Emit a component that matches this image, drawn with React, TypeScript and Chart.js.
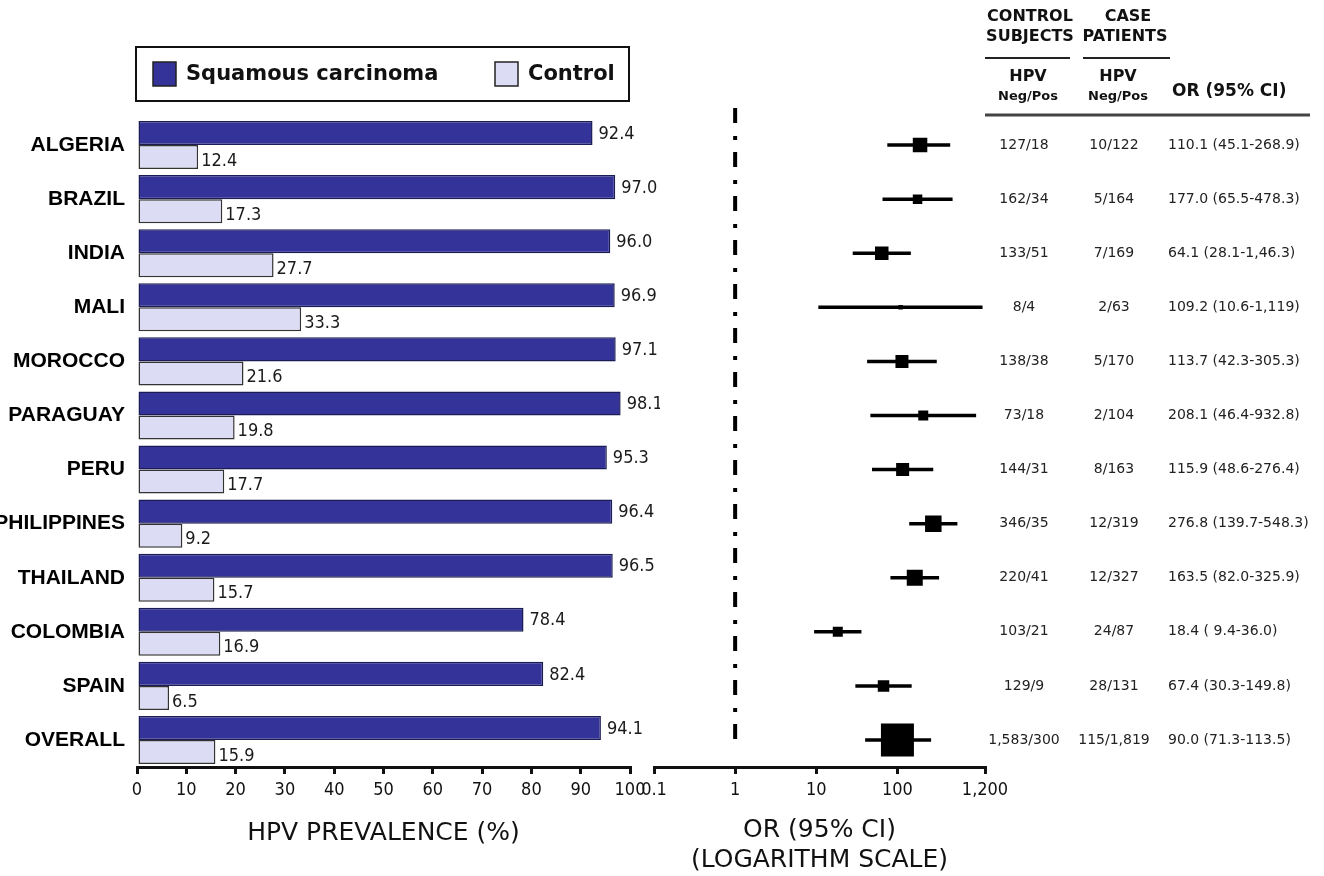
import React, { useEffect, useRef } from 'react';
import { Chart, registerables } from 'chart.js';

Chart.register(...registerables);

// ---------- data ----------
const countries = ['ALGERIA', 'BRAZIL', 'INDIA', 'MALI', 'MOROCCO', 'PARAGUAY', 'PERU', 'PHILIPPINES', 'THAILAND', 'COLOMBIA', 'SPAIN', 'OVERALL'];
const squamousPct = [92.4, 97.0, 96.0, 96.9, 97.1, 98.1, 95.3, 96.4, 96.5, 78.4, 82.4, 94.1];
const controlPct = [12.4, 17.3, 27.7, 33.3, 21.6, 19.8, 17.7, 9.2, 15.7, 16.9, 6.5, 15.9];

const controlNegPos = ['127/18', '162/34', '133/51', '8/4', '138/38', '73/18', '144/31', '346/35', '220/41', '103/21', '129/9', '1,583/300'];
const caseNegPos = ['10/122', '5/164', '7/169', '2/63', '5/170', '2/104', '8/163', '12/319', '12/327', '24/87', '28/131', '115/1,819'];
const orText = ['110.1 (45.1-268.9)', '177.0 (65.5-478.3)', '64.1 (28.1-1,46.3)', '109.2 (10.6-1,119)', '113.7 (42.3-305.3)', '208.1 (46.4-932.8)', '115.9 (48.6-276.4)', '276.8 (139.7-548.3)', '163.5 (82.0-325.9)', '18.4 ( 9.4-36.0)', '67.4 (30.3-149.8)', '90.0 (71.3-113.5)'];

// odds ratios and CIs as drawn in the forest plot
const orPoint = [190, 177.0, 64.1, 109.2, 113.7, 208.1, 115.9, 276.8, 163.5, 18.4, 67.4, 100];
const ciLower = [75, 65.5, 28.1, 10.6, 42.3, 46.4, 48.6, 139.7, 82.0, 9.4, 30.3, 40];
const ciUpper = [447, 478.3, 146.3, 1119, 305.3, 932.8, 276.4, 548.3, 325.9, 36.0, 149.8, 260];
// marker side (study weight)
const markerSide = [14.5, 9.5, 13.5, 4.5, 13, 10, 13, 16.5, 16, 10, 11.5, 33];

const orTicks = [0.1, 1, 10, 100, 1200];
const orTickLabels = ['0.1', '1', '10', '100', '1,200'];

// ---------- styles ----------
const NUM_FONT = "'DejaVu Sans Condensed', 'DejaVu Sans', sans-serif";
const TXT_FONT = "'DejaVu Sans', sans-serif";
const LABEL_FONT = "'Liberation Sans', Arial, sans-serif";
const RIGHT_OFFSET = 640;

const barExtras = {
  id: 'barExtras',
  afterDatasetsDraw(chart: any) {
    const ctx = chart.ctx as CanvasRenderingContext2D;
    ctx.save();
    ctx.font = `18px ${NUM_FONT}`;
    ctx.fillStyle = '#1a1a1a';
    ctx.textBaseline = 'middle';
    ctx.textAlign = 'left';
    chart.data.datasets.forEach((ds: any, di: number) => {
      const meta = chart.getDatasetMeta(di);
      meta.data.forEach((el: any, i: number) => {
        const v = ds.data[i] as number;
        ctx.fillText(v.toFixed(1), el.x + (di === 0 ? 6 : 3), el.y + (di === 0 ? 1 : 4));
      });
    });
    // legend box
    const a = chart.chartArea;
    ctx.lineWidth = 2;
    ctx.strokeStyle = '#111';
    ctx.strokeRect(a.left - 1, 47, a.right - a.left, 54);
    const items = [
      { x: 153, text: chart.data.datasets[0].label, ds: chart.data.datasets[0] },
      { x: 495, text: chart.data.datasets[1].label, ds: chart.data.datasets[1] },
    ];
    ctx.font = `bold 21px ${TXT_FONT}`;
    items.forEach((it) => {
      ctx.fillStyle = it.ds.backgroundColor;
      ctx.fillRect(it.x, 62, 23, 24);
      ctx.lineWidth = 1.5;
      ctx.strokeStyle = '#222';
      ctx.strokeRect(it.x, 62, 23, 24);
      ctx.fillStyle = '#111';
      ctx.fillText(it.text, it.x + 33, 75);
    });
    ctx.restore();
  },
};

const forestExtras = {
  id: 'forestExtras',
  beforeDatasetsDraw(chart: any) {
    const { ctx, chartArea, scales } = chart;
    const x = scales.x;
    const y = scales.y;
    ctx.save();
    ctx.strokeStyle = '#000';
    ctx.lineWidth = 4;
    ctx.setLineDash([15, 13, 4, 12]);
    const rx = x.getPixelForValue(1);
    ctx.beginPath();
    ctx.moveTo(rx, chartArea.top - 10);
    ctx.lineTo(rx, chartArea.bottom - 25);
    ctx.stroke();
    ctx.setLineDash([]);
    ctx.lineWidth = 3.5;
    countries.forEach((_c, i) => {
      const py = y.getPixelForValue(i);
      ctx.beginPath();
      ctx.moveTo(x.getPixelForValue(ciLower[i]), py);
      ctx.lineTo(x.getPixelForValue(ciUpper[i]), py);
      ctx.stroke();
    });
    ctx.restore();
  },
  afterDraw(chart: any) {
    const { ctx, scales } = chart;
    const y = scales.y;
    const X = (v: number) => v - RIGHT_OFFSET;
    ctx.save();
    ctx.fillStyle = '#111';
    ctx.textBaseline = 'middle';
    // header
    ctx.textAlign = 'center';
    ctx.font = `bold 16px ${TXT_FONT}`;
    ctx.fillText('CONTROL', X(1030), 17);
    ctx.fillText('SUBJECTS', X(1030), 37);
    ctx.fillText('CASE', X(1128), 17);
    ctx.fillText('PATIENTS', X(1125), 37);
    ctx.fillText('HPV', X(1028), 77);
    ctx.fillText('HPV', X(1118), 77);
    ctx.font = `bold 13px ${TXT_FONT}`;
    ctx.fillText('Neg/Pos', X(1028), 97);
    ctx.fillText('Neg/Pos', X(1118), 97);
    ctx.textAlign = 'left';
    ctx.font = `bold 17px ${TXT_FONT}`;
    ctx.fillText('OR (95% CI)', X(1172), 92);
    ctx.strokeStyle = '#222';
    ctx.lineWidth = 2;
    ctx.beginPath();
    ctx.moveTo(X(985), 58); ctx.lineTo(X(1070), 58);
    ctx.moveTo(X(1083), 58); ctx.lineTo(X(1170), 58);
    ctx.stroke();
    ctx.strokeStyle = '#444';
    ctx.lineWidth = 3;
    ctx.beginPath();
    ctx.moveTo(X(985), 115); ctx.lineTo(X(1310), 115);
    ctx.stroke();
    // rows
    ctx.font = `14px ${TXT_FONT}`;
    ctx.fillStyle = '#222';
    countries.forEach((_c, i) => {
      const py = y.getPixelForValue(i);
      ctx.textAlign = 'center';
      ctx.fillText(controlNegPos[i], X(1024), py);
      ctx.fillText(caseNegPos[i], X(1114), py);
      ctx.textAlign = 'left';
      ctx.fillText(orText[i], X(1168), py);
    });
    ctx.restore();
  },
};

export default function App() {
  const leftRef = useRef<HTMLCanvasElement>(null);
  const rightRef = useRef<HTMLCanvasElement>(null);

  useEffect(() => {
    const axisColor = '#111';
    const left = new Chart(leftRef.current as HTMLCanvasElement, {
      type: 'bar',
      data: {
        labels: countries,
        datasets: [
          {
            label: 'Squamous carcinoma',
            data: squamousPct,
            backgroundColor: '#333399',
            borderColor: '#1c1c55',
            borderWidth: 1.5,
            borderSkipped: false,
            categoryPercentage: 0.89,
            barPercentage: 1,
          },
          {
            label: 'Control',
            data: controlPct,
            backgroundColor: '#dcdcf5',
            borderColor: '#333',
            borderWidth: 1.5,
            borderSkipped: false,
            categoryPercentage: 0.89,
            barPercentage: 1,
          },
        ],
      },
      options: {
        indexAxis: 'y',
        animation: false,
        responsive: true,
        maintainAspectRatio: false,
        layout: { autoPadding: false, padding: { left: 0, right: 30, top: 118, bottom: 0 } },
        plugins: { legend: { display: false }, tooltip: { enabled: false } },
        scales: {
          x: {
            min: 0,
            max: 100,
            ticks: { stepSize: 10, font: { family: NUM_FONT, size: 18 }, color: axisColor, padding: 6, maxRotation: 0, autoSkip: false },
            grid: { drawOnChartArea: false, drawTicks: true, tickLength: 7, lineWidth: 3, color: axisColor },
            border: { display: true, width: 3, color: axisColor },
            title: { display: true, text: 'HPV PREVALENCE (%)', font: { family: TXT_FONT, size: 25, lineHeight: 1.2 }, color: axisColor, padding: { top: 0, bottom: 28 } },
            afterFit: (s: any) => { s.height = 109; s.paddingLeft = 0; s.paddingRight = 0; },
          },
          y: {
            ticks: { font: { family: LABEL_FONT, size: 21, weight: 'bold' }, color: '#000', padding: 12 },
            grid: { display: false, drawTicks: false },
            border: { display: false },
            afterFit: (s: any) => { s.width = 137; },
          },
        },
      } as any,
      plugins: [barExtras],
    });

    const right = new Chart(rightRef.current as HTMLCanvasElement, {
      type: 'scatter',
      data: {
        datasets: [
          {
            label: 'OR',
            data: countries.map((c, i) => ({ x: orPoint[i], y: c })) as any,
            pointStyle: 'rect',
            pointRadius: markerSide.map((s) => s / Math.SQRT2),
            pointHoverRadius: markerSide.map((s) => s / Math.SQRT2),
            backgroundColor: '#000',
            borderColor: '#000',
            borderWidth: 0,
          },
        ],
      },
      options: {
        animation: false,
        responsive: true,
        maintainAspectRatio: false,
        layout: { autoPadding: false, padding: { left: 14, right: 339, top: 118, bottom: 0 } },
        plugins: { legend: { display: false }, tooltip: { enabled: false } },
        scales: {
          x: {
            type: 'logarithmic',
            min: 0.1,
            max: 1200,
            afterBuildTicks: (s: any) => { s.ticks = orTicks.map((v) => ({ value: v })); },
            ticks: {
              callback: (_v: any, idx: number) => orTickLabels[idx],
              font: { family: NUM_FONT, size: 18 },
              color: axisColor,
              padding: 6,
              maxRotation: 0,
              autoSkip: false,
            },
            grid: { drawOnChartArea: false, drawTicks: true, tickLength: 7, lineWidth: 3, color: axisColor },
            border: { display: true, width: 3, color: axisColor },
            title: {
              display: true,
              text: ['OR (95% CI)', '(LOGARITHM SCALE)'],
              font: { family: TXT_FONT, size: 25, lineHeight: 1.2 },
              color: axisColor,
              padding: { top: 0, bottom: 1 },
            },
            afterFit: (s: any) => { s.height = 109; s.paddingLeft = 0; s.paddingRight = 0; },
          },
          y: { type: 'category', labels: countries, offset: true, display: false },
        },
      } as any,
      plugins: [forestExtras],
    });

    return () => {
      left.destroy();
      right.destroy();
    };
  }, []);

  return (
    <div style={{ position: 'fixed', left: 0, top: 0, width: 1324, height: 876, background: '#fff', overflow: 'hidden' }}>
      <div style={{ position: 'absolute', left: 0, top: 0, width: 660, height: 876 }}>
        <canvas ref={leftRef} />
      </div>
      <div style={{ position: 'absolute', left: RIGHT_OFFSET, top: 0, width: 684, height: 876 }}>
        <canvas ref={rightRef} />
      </div>
    </div>
  );
}
